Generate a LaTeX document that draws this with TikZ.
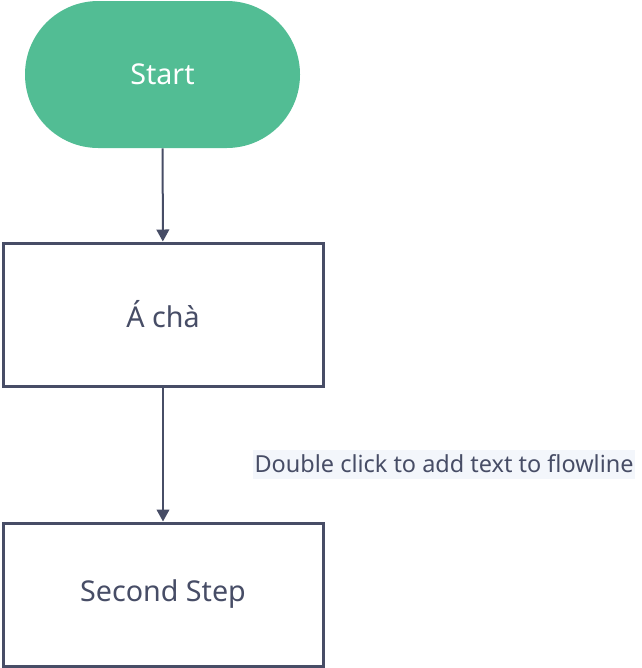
\documentclass[tikz,border=0pt]{standalone}
\usepackage{fontspec}
\setmainfont{Noto Sans}
\usetikzlibrary{arrows.meta}
\definecolor{startgreen}{HTML}{52BD94}
\definecolor{linegray}{HTML}{474D66}
\definecolor{labelbg}{HTML}{F3F6FB}
\begin{document}
\begin{tikzpicture}[
  x=0.75pt, y=-0.75pt,
  terminal/.style={fill=startgreen, text=white, rounded corners=55pt,
    minimum width=275*0.75pt, minimum height=147*0.75pt, font=\fontsize{21.5}{24}\selectfont},
  process/.style={draw=linegray, line width=3pt*0.75, text=linegray,
    minimum width=320*0.75pt, minimum height=143*0.75pt, font=\fontsize{21.5}{24}\selectfont},
  flow/.style={draw=linegray, line width=1.5pt, -{Triangle[width=9.5pt,length=9pt]}},
  flowlabel/.style={fill=labelbg, text=linegray, inner sep=1pt,
    minimum height=29*0.75pt, font=\fontsize{17.6}{20}\selectfont},
]
\useasboundingbox (0,0) rectangle (642,668);
\node[terminal] (start) at (162.5,74.5) {Start};
\node[process] (first) at (163,314.5) {Á chà};
\node[process] (second) at (163,594.5) {Second Step};
\draw[flow] (start) -- (first);
\draw[flow] (first) -- (second);
\node[flowlabel, anchor=west] (note) at (253,464) {Double click to add text to flowline};
\end{tikzpicture}
\end{document}
